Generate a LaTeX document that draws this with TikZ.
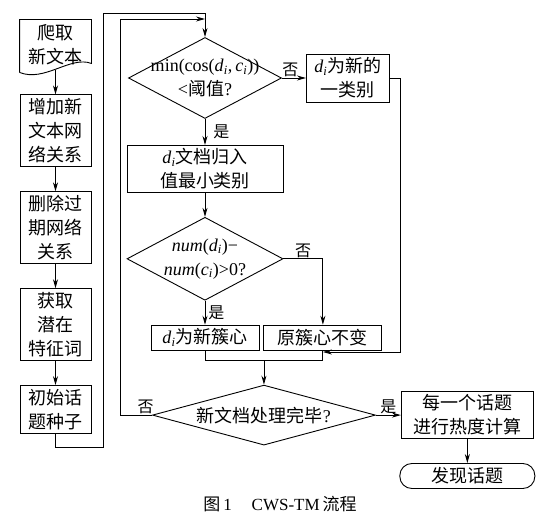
\RequirePackage{fix-cm}
\documentclass[tikz,border=0pt]{standalone}
\usepackage[no-math]{fontspec}
\setmainfont{Noto Sans CJK SC}
\newfontfamily\latinfont{Liberation Serif}
\newcommand{\mvar}[2]{{\latinfont\textit{#1}\textsubscript{\textit{#2}}}}
\usetikzlibrary{arrows.meta,positioning,shapes.geometric,calc}

\begin{document}
\begin{tikzpicture}[x=1pt,y=-1pt,
  font=\fontsize{18}{24}\selectfont,
  lbox/.style={draw,line width=0.9pt,align=center,minimum width=71pt,inner sep=1pt},
  box/.style={draw,line width=0.9pt,align=center,inner sep=1pt},
  decision/.style={draw,diamond,line width=0.9pt,inner sep=0pt},
  lab/.style={font=\fontsize{16}{18}\selectfont,inner sep=1pt},
  arrow/.style={-{Stealth[length=9pt,width=5pt]},line width=0.9pt},
  link/.style={line width=0.9pt}]
\useasboundingbox (0,0) rectangle (542,513);
% left column
\node[lbox,draw=none,minimum height=50pt] (crawl) at (55.5,45) {爬取\\新文本};
\draw[link] ([yshift=-2pt]crawl.south west) -- (crawl.north west) -- (crawl.north east) -- ([yshift=7pt]crawl.south east)
  .. controls +(-21,-8) and +(25,10) .. ([yshift=-2pt]crawl.south west);
\node[lbox,minimum height=72pt,below=24pt of crawl] (add) {增加新\\文本网\\络关系};
\node[lbox,minimum height=72pt,below=24pt of add] (remove) {删除过\\期网络\\关系};
\node[lbox,minimum height=72pt,below=24pt of remove] (latent) {获取\\潜在\\特征词};
\node[lbox,minimum height=48pt,below=24pt of latent] (seed) {初始话\\题种子};
% main column
\node[decision,minimum width=153pt,minimum height=81pt,
  label={[align=center]center:{{\latinfont min(cos(\mvar{d}{i},\,\mvar{c}{i}))}\\{\latinfont <}阈值{\latinfont ?}}}] (simcheck) at (205,78) {};
\node[box,minimum width=83pt,minimum height=48pt,right=24pt of simcheck] (newclass) {\mvar{d}{i}为新的\\一类别};
\node[box,minimum width=156pt,minimum height=47pt,below=26pt of simcheck] (assign) {\mvar{d}{i}文档归入\\值最小类别};
\node[decision,minimum width=156pt,minimum height=83pt,below=24pt of assign,
  label={[align=center]center:{{\latinfont\textit{num}(\mvar{d}{i})−}\\{\latinfont\textit{num}(\mvar{c}{i})>0?}}}] (gaincheck) {};
\node[box,minimum width=108pt,minimum height=25pt,below=24pt of gaincheck] (newcenter) {\mvar{d}{i}为新簇心};
\node[box,minimum width=118pt,minimum height=25pt,right=4pt of newcenter] (keepcenter) {原簇心不变};
\coordinate (merge) at ($(newcenter.south)!0.5!(keepcenter.south)+(0,10)$);
\node[decision,minimum width=223pt,minimum height=60pt,below=24pt of merge,
  label=center:{新文档处理完毕{\latinfont ?}}] (donecheck) {};
\node[box,minimum width=132pt,minimum height=47pt,right=25pt of donecheck] (heat) {每一个话题\\进行热度计算};
\node[box,rounded corners=12pt,minimum width=135pt,minimum height=25pt,below=24pt of heat] (topic) {发现话题};
\node (caption) at (280,504) {\fontsize{17}{20}\selectfont 图\,{\latinfont 1}\hspace{20pt}{\latinfont CWS-TM}\,流程};
% connectors
\draw[arrow] (crawl.south) -- (add.north);
\draw[arrow] (add.south) -- (remove.north);
\draw[arrow] (remove.south) -- (latent.north);
\draw[arrow] (latent.south) -- (seed.north);
\coordinate (loopbottom) at (103,447);
\coordinate (looptop) at (103,13);
\draw[arrow] (seed.south) |- (loopbottom) -- (looptop) -| (simcheck.north);
\coordinate (backcorner) at (120,19);
\draw[arrow] (donecheck.west) -| node[lab,above,pos=0.1]{否} (backcorner) -- (backcorner -| simcheck.north);
\draw[arrow] (simcheck.east) -- node[lab,above,pos=0.35]{否} (newclass.west);
\draw[arrow] (simcheck.south) -- node[lab,right=7pt]{是} (assign.north);
\draw[arrow] (assign.south) -- (gaincheck.north);
\draw[arrow] (gaincheck.east) -| node[lab,above,pos=0.25]{否} (keepcenter.north);
\draw[arrow] (gaincheck.south) -- node[lab,right=2pt]{是} (newcenter.north);
\draw[link] (newcenter.south) |- (merge);
\draw[link] (keepcenter.south) |- (merge);
\draw[arrow] (merge) -- (donecheck.north);
\coordinate (sideturn) at (400,352);
\draw[arrow] (newclass.east) -| (sideturn) -- (sideturn -| keepcenter.south);
\draw[arrow] (donecheck.east) -- node[lab,above]{是} (heat.west);
\draw[arrow] (heat.south) -- (topic.north);
\end{tikzpicture}
\end{document}
